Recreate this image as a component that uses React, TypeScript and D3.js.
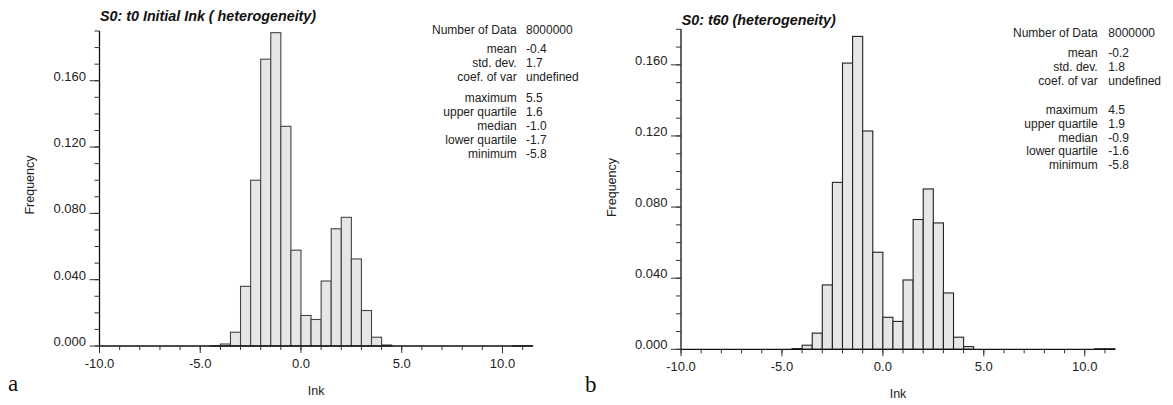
import React from "react";
import * as d3 from "d3";

// ---------- data ----------
const binStartsA = [-4.5, -4.0, -3.5, -3.0, -2.5, -2.0, -1.5, -1.0, -0.5, 0.0, 0.5, 1.0, 1.5, 2.0, 2.5, 3.0, 3.5, 4.0, 10.5, 11.0];
const freqA = [0.0002, 0.0012, 0.0083, 0.036, 0.1, 0.173, 0.189, 0.1325, 0.0578, 0.0184, 0.016, 0.0392, 0.0707, 0.0776, 0.0525, 0.0214, 0.0053, 0.0006, 0.0002, 0.0002];

const binStartsB = [-4.5, -4.0, -3.5, -3.0, -2.5, -2.0, -1.5, -1.0, -0.5, 0.0, 0.5, 1.0, 1.5, 2.0, 2.5, 3.0, 3.5, 4.0, 10.5, 11.0];
const freqB = [0.0004, 0.0023, 0.0091, 0.0362, 0.0939, 0.161, 0.176, 0.1228, 0.0546, 0.018, 0.0157, 0.039, 0.073, 0.0902, 0.0711, 0.0317, 0.0068, 0.0015, 0.0003, 0.0003];

const binWidth = 0.5;

const statLabels = ["Number of Data", "mean", "std. dev.", "coef. of var", "maximum", "upper quartile", "median", "lower quartile", "minimum"];
const statValuesA = ["8000000", "-0.4", "1.7", "undefined", "5.5", "1.6", "-1.0", "-1.7", "-5.8"];
const statValuesB = ["8000000", "-0.2", "1.8", "undefined", "4.5", "1.9", "-0.9", "-1.6", "-5.8"];

const titleA = "S0: t0 Initial Ink ( heterogeneity)";
const titleB = "S0: t60 (heterogeneity)";

const xMajorTicks = [-10, -5, 0, 5, 10];
const yMajorStep = 0.04;

const SANS = "'Liberation Sans', Arial, Helvetica, sans-serif";

type PanelProps = {
  starts: number[];
  values: number[];
  title: string;
  statVals: string[];
  letter: string;
  x0: number;
  x1: number;
  yZero: number;
  yTop: number;
  yMax: number;
  titleX: number;
  titleY: number;
  statLabelX: number;
  statValueX: number;
  statYs: number[];
  freqX: number;
  freqY: number;
  inkY: number;
  letterX: number;
  letterY: number;
  barStroke: string;
};

function Panel(p: PanelProps) {
  const x = d3.scaleLinear().domain([-10, 11.5]).range([p.x0, p.x1]);
  const y = d3.scaleLinear().domain([0, p.yMax]).range([p.yZero, p.yTop]);
  const xMinor = d3.range(-10, 11.5 + 1e-9, 1);
  const yMinor = d3.range(0, p.yMax + 1e-9, 0.01);
  const yMajor = d3.range(0, p.yMax + 1e-9, yMajorStep);
  return (
    <g>
      {/* bars */}
      {p.starts.map((s, i) => (
        <rect
          key={i}
          x={x(s)}
          y={y(p.values[i])}
          width={x(s + binWidth) - x(s)}
          height={y(0) - y(p.values[i])}
          fill="#e6e6e6"
          stroke={p.barStroke}
          strokeWidth={1.1}
        />
      ))}
      {/* axes */}
      <line x1={p.x0} x2={p.x1} y1={p.yZero} y2={p.yZero} stroke="#111" strokeWidth={1.3} />
      <line x1={p.x0} x2={p.x0} y1={p.yZero} y2={y(p.yMax)} stroke="#111" strokeWidth={1.3} />
      {xMinor.map((v) => (
        <line key={"xm" + v} x1={x(v)} x2={x(v)} y1={p.yZero} y2={p.yZero + 4} stroke="#333" strokeWidth={1} />
      ))}
      {xMajorTicks.map((v) => (
        <g key={"xM" + v}>
          <line x1={x(v)} x2={x(v)} y1={p.yZero} y2={p.yZero + 7} stroke="#333" strokeWidth={1} />
          <text x={x(v)} y={p.yZero + 21.5} textAnchor="middle" fontFamily={SANS} fontSize={13} fill="#222">
            {v.toFixed(1)}
          </text>
        </g>
      ))}
      {yMinor.map((v, i) => (
        <line key={"ym" + i} x1={p.x0 - 5} x2={p.x0} y1={y(v)} y2={y(v)} stroke="#333" strokeWidth={1} />
      ))}
      {yMajor.map((v, i) => (
        <g key={"yM" + i}>
          <line x1={p.x0 - 10} x2={p.x0} y1={y(v)} y2={y(v)} stroke="#333" strokeWidth={1} />
          <text x={p.x0 - 13.5} y={y(v)} textAnchor="end" fontFamily={SANS} fontSize={13} fill="#222">
            {v.toFixed(3)}
          </text>
        </g>
      ))}
      {/* axis labels */}
      <text
        transform={`translate(${p.freqX},${p.freqY}) rotate(-90)`}
        textAnchor="middle"
        dominantBaseline="middle"
        fontFamily={SANS}
        fontSize={12.5}
        fill="#222"
      >
        Frequency
      </text>
      <text x={(p.x0 + p.x1) / 2} y={p.inkY} textAnchor="middle" fontFamily={SANS} fontSize={12.5} fill="#222">
        Ink
      </text>
      {/* title */}
      <text x={p.titleX} y={p.titleY} fontFamily={SANS} fontSize={14.3} fontWeight="bold" fontStyle="italic" fill="#111">
        {p.title}
      </text>
      {/* stats */}
      {statLabels.map((l, i) => (
        <g key={"st" + i}>
          <text x={p.statLabelX} y={p.statYs[i]} textAnchor="end" fontFamily={SANS} fontSize={12} fill="#222">
            {l}
          </text>
          <text x={p.statValueX} y={p.statYs[i]} fontFamily={SANS} fontSize={12} fill="#222">
            {p.statVals[i]}
          </text>
        </g>
      ))}
      {/* panel letter */}
      <text x={p.letterX} y={p.letterY} fontFamily="'Liberation Serif', 'DejaVu Serif', serif" fontSize={23} fill="#111">
        {p.letter}
      </text>
    </g>
  );
}

export default function App() {
  return (
    <svg
      width={1173}
      height={405}
      style={{ position: "absolute", left: 0, top: 0, background: "#fff" }}
    >
      <rect width={1173} height={405} fill="#fff" />
      <Panel
        starts={binStartsA}
        values={freqA}
        title={titleA}
        statVals={statValuesA}
        letter="a"
        x0={99.5}
        x1={532.7}
        yZero={346}
        yTop={31}
        yMax={0.19}
        titleX={100}
        titleY={21}
        statLabelX={516.7}
        statValueX={526}
        statYs={[34, 53, 67, 81, 101.5, 115.5, 130, 144, 158]}
        freqX={31}
        freqY={185}
        inkY={395}
        letterX={8}
        letterY={391}
        barStroke="#444"
      />
      <Panel
        starts={binStartsB}
        values={freqB}
        title={titleB}
        statVals={statValuesB}
        letter="b"
        x0={681}
        x1={1115}
        yZero={349.3}
        yTop={29.3}
        yMax={0.18}
        titleX={681.7}
        titleY={25}
        statLabelX={1097.7}
        statValueX={1108.3}
        statYs={[37, 56.5, 71, 85, 114, 127.5, 141.5, 155, 168.5]}
        freqX={612.5}
        freqY={187.5}
        inkY={398}
        letterX={585}
        letterY={392}
        barStroke="#222"
      />
    </svg>
  );
}
